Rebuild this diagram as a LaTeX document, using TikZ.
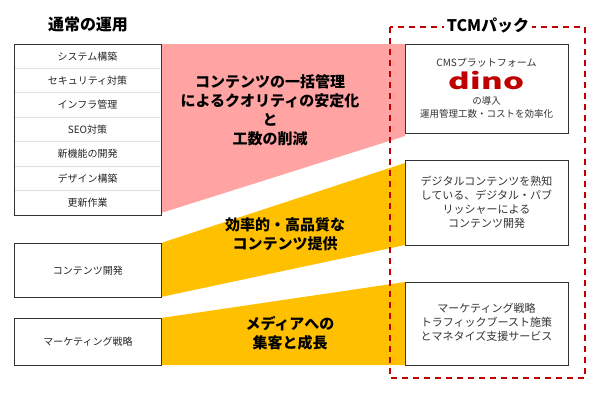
\documentclass[tikz,border=0pt]{standalone}
\usepackage{fontspec}
\setmainfont{Noto Sans CJK JP}
\begin{document}
\begin{tikzpicture}[x=1pt,y=-1pt,
  box/.style={draw=black!80,line width=0.8pt,fill=white,inner sep=0},
  row/.style={font=\fontsize{10}{12}\selectfont,text=black!85},
  big/.style={font=\bfseries\fontsize{15}{19}\selectfont,align=center},
  rt/.style={font=\fontsize{10}{12}\selectfont,align=center,text=black!80}]
\useasboundingbox (0,0) rectangle (600,400);
\definecolor{pk}{HTML}{FFA3A3}\definecolor{yl}{HTML}{FFC000}\definecolor{dr}{HTML}{C00000}
\fill[pk] (161,44)--(405,44)--(405,136)--(161,213)--cycle;
\fill[yl] (161,243)--(405,163)--(405,245)--(161,297)--cycle;
\fill[yl] (161,318)--(405,282)--(405,365)--(161,365)--cycle;
\draw[dr,dashed,line width=1.3pt,dash pattern=on 6pt off 5pt] (390,27) rectangle (585,378);
\node[fill=white,font=\bfseries\fontsize{16}{18}\selectfont,inner xsep=3pt] (tcm) at (488,25) {TCMパック};
\node[font=\bfseries\fontsize{16}{18}\selectfont] (t1) at (88,24) {通常の運用};
\node[box,minimum width=147,minimum height=171,anchor=north west] (L) at (14,44) {};
\foreach \i/\t in {0/システム構築,1/セキュリティ対策,2/インフラ管理,3/SEO対策,4/新機能の開発,5/デザイン構築,6/更新作業}{
  \node[row] (r\i) at (87.5,{56.2+\i*24.4}) {\t};
  \ifnum\i>0 \draw[black!12,line width=1pt] (15,{44+\i*24.4})--(160,{44+\i*24.4}); \fi}
\node[box,minimum width=147,minimum height=54,anchor=north west,row] (c) at (14,243) {コンテンツ開発};
\node[box,minimum width=147,minimum height=47,anchor=north west,row] (m) at (14,318) {マーケティング戦略};
\node[box,minimum width=163,minimum height=89,anchor=north west] (R1) at (405,44) {};
\node[box,minimum width=163,minimum height=85,anchor=north west] (R2) at (405,160) {};
\node[box,minimum width=163,minimum height=83,anchor=north west] (R3) at (405,282) {};
\node[rt] (a) at (486.5,63) {CMSプラットフォーム};
\node[font=\bfseries\fontsize{22}{22}\selectfont,text=dr,xscale=1.5] (d) at (486.5,81) {dino};
\node[rt,font=\fontsize{9.5}{13}\selectfont] (b) at (486.5,107) {の導入\\運用管理工数・コストを効率化};
\node[rt,font=\fontsize{11}{14}\selectfont] (x2) at (486.5,202) {デジタルコンテンツを熟知\\している、デジタル・パブ\\リッシャーによる\\コンテンツ開発};
\node[rt,font=\fontsize{11}{14}\selectfont] (x3) at (486.5,322) {マーケティング戦略\\トラフィックブースト施策\\とマネタイズ支援サービス};
\node[big] (p1) at (270,110) {コンテンツの一括管理\\によるクオリティの安定化\\と\\工数の削減};
\node[big] (p2) at (285,234) {効率的・高品質な\\コンテンツ提供};
\node[big] (p3) at (290,333) {メディアへの\\集客と成長};
\end{tikzpicture}
\end{document}
